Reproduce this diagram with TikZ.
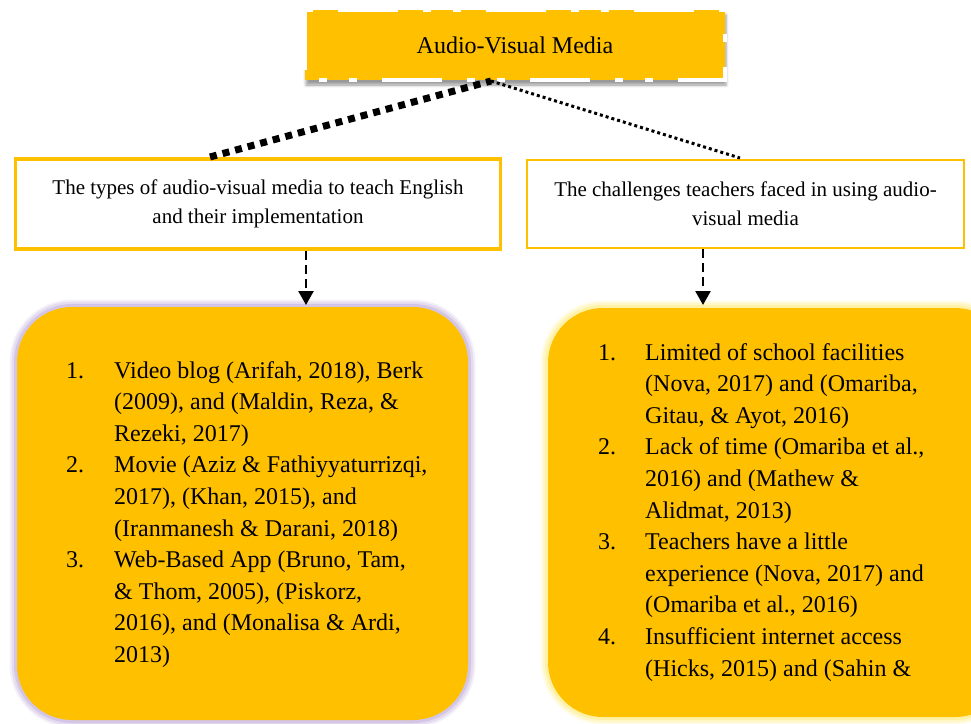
\documentclass[tikz,border=0pt]{standalone}
\usepackage{fontspec}
\setmainfont{Liberation Serif}
\usetikzlibrary{arrows.meta,shadows.blur}
\definecolor{gold}{HTML}{FFC000}
\definecolor{glowp}{HTML}{C8B6DE}
\definecolor{glowy}{HTML}{FFEE90}
\begin{document}
\begin{tikzpicture}[x=1pt,y=-1pt,
  topbox/.style={fill=gold, minimum width=420pt, minimum height=70pt, inner sep=0pt,
     font=\fontsize{24}{28}\selectfont,
     blur shadow={shadow xshift=1pt, shadow yshift=-5pt, shadow blur radius=3pt, shadow opacity=40}},
  midbox/.style={draw=gold, fill=white, inner sep=0pt, align=center,
     font=\fontsize{21}{29}\selectfont},
  listtext/.style={inner sep=0pt, font=\fontsize{24}{31.6}\selectfont},
  bigdots/.style={line width=7pt, dash pattern=on 7pt off 6pt},
  smalldots/.style={line width=3pt, dash pattern=on 3pt off 3pt},
  dasharrow/.style={line width=2.5pt, dash pattern=on 9pt off 5pt, -{Triangle[width=15pt,length=14pt]}, shorten >=0pt},
  whitedash/.style={draw=white, line width=4pt, dash pattern=on 60pt off 25pt on 8pt off 22pt on 8pt off 25pt},
  roundbox/.style={rounded corners=55pt}
]
\clip (0,0) rectangle (971,723);

% top node
\node[topbox] (top) at (515,45) {Audio-Visual Media};
\draw[whitedash] (top.north west) rectangle (top.south east);

% second level boxes
\node[midbox, line width=3.5pt, minimum width=485pt, minimum height=90pt] (lbox) at (258,204)
  {The types of audio-visual media to teach English\\and their implementation};
\node[midbox, line width=2pt, minimum width=437pt, minimum height=88pt] (rbox) at (745.5,204)
  {The challenges teachers faced in using audio-\\visual media};

% connector coordinates
\coordinate (tp) at (491,81);
\coordinate (lt) at (210,157);
\coordinate (rt) at (740,158);
\draw[bigdots] (lt) -- (tp);
\draw[smalldots] (tp) -- (rt);

% bottom rounded boxes
\draw[glowp, line width=15pt, opacity=0.2, roundbox] (17,307) rectangle (468,720);
\draw[glowp, line width=11pt, opacity=0.35, roundbox] (17,307) rectangle (468,720);
\draw[glowp, line width=6pt, opacity=0.6, roundbox] (17,307) rectangle (468,720);
\fill[gold, roundbox] (17,307) rectangle (468,720);

\draw[glowy, line width=15pt, opacity=0.2, roundbox] (548,308) rectangle (1010,717);
\draw[glowy, line width=11pt, opacity=0.35, roundbox] (548,308) rectangle (1010,717);
\draw[glowy, line width=6pt, opacity=0.6, roundbox] (548,308) rectangle (1010,717);
\fill[gold, roundbox] (548,308) rectangle (1010,717);

\coordinate (lb) at (306,305);
\coordinate (rb) at (703,305);
\draw[dasharrow] (lbox.south -| lb) -- (lb);
\draw[dasharrow] (rbox.south -| rb) -- (rb);

% lists
\node[listtext, anchor=base west] (llist) at (66,378) {\begin{tabular}[t]{@{}p{48pt}@{}l@{}}
1. & Video blog (Arifah, 2018), Berk\\
 & (2009), and (Maldin, Reza, \&\\
 & Rezeki, 2017)\\
2. & Movie (Aziz \& Fathiyyaturrizqi,\\
 & 2017), (Khan, 2015), and\\
 & (Iranmanesh \& Darani, 2018)\\
3. & Web-Based App (Bruno, Tam,\\
 & \& Thom, 2005), (Piskorz,\\
 & 2016), and (Monalisa \& Ardi,\\
 & 2013)
\end{tabular}};

\node[listtext, anchor=base west] (rlist) at (598,360) {\begin{tabular}[t]{@{}p{47pt}@{}l@{}}
1. & Limited of school facilities\\
 & (Nova, 2017) and (Omariba,\\
 & Gitau, \& Ayot, 2016)\\
2. & Lack of time (Omariba et al.,\\
 & 2016) and (Mathew \&\\
 & Alidmat, 2013)\\
3. & Teachers have a little\\
 & experience (Nova, 2017) and\\
 & (Omariba et al., 2016)\\
4. & Insufficient internet access\\
 & (Hicks, 2015) and (Sahin \&
\end{tabular}};
\end{tikzpicture}
\end{document}
